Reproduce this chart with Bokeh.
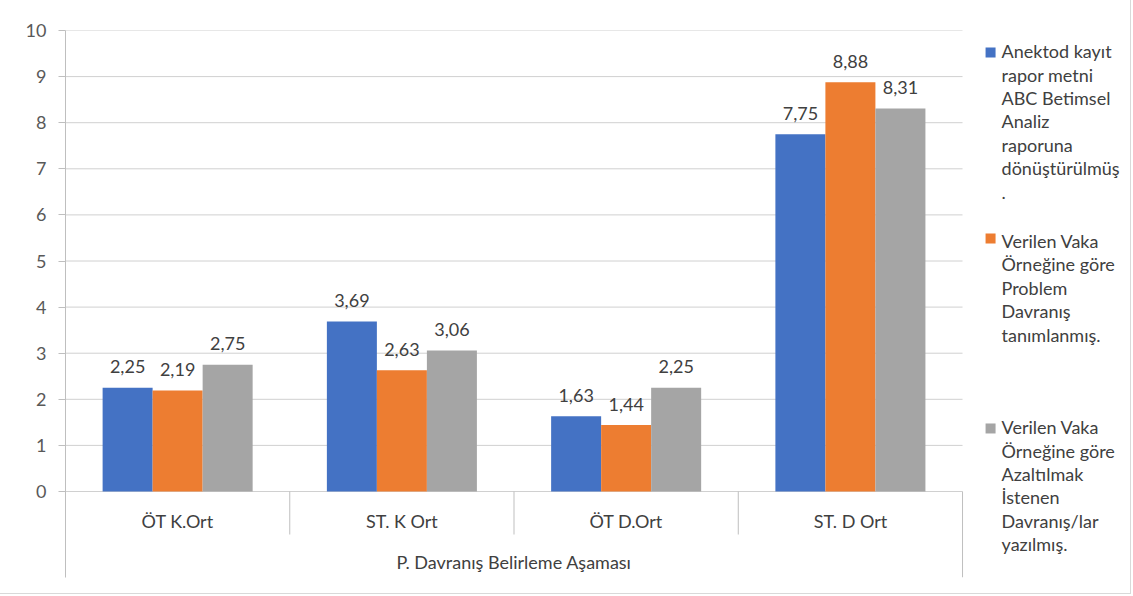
from bokeh.plotting import figure
from bokeh.models import Range1d, FixedTicker, ColumnDataSource
from bokeh.core.properties import value
from bokeh.embed import file_html
from bokeh.resources import INLINE
import numpy as np

# ---------------- data ----------------
categories = ["ÖT K.Ort", "ST. K Ort", "ÖT D.Ort", "ST. D Ort"]
group_label = "P. Davranış Belirleme Aşaması"
series_names = [
    "Anektod kayıt\nrapor metni\nABC Betimsel\nAnaliz\nraporuna\ndönüştürülmüş\n.",
    "Verilen Vaka\nÖrneğine göre\nProblem\nDavranış\ntanımlanmış.",
    "Verilen Vaka\nÖrneğine göre\nAzaltılmak\nİstenen\nDavranış/lar\nyazılmış.",
]
series_a = [2.25, 3.69, 1.63, 7.75]
series_b = [2.19, 2.63, 1.44, 8.88]
series_c = [2.75, 3.06, 2.25, 8.31]
y_ticks = [0, 1, 2, 3, 4, 5, 6, 7, 8, 9, 10]

# ---------------- style ----------------
colors = ["#4472C4", "#ED7D31", "#A5A5A5"]
FONT = "Lato"
FS = "18px"
GRID = "#d0d0d0"
AXIS = "#bfbfbf"
TXT = "#404040"

n = len(categories)
centers = np.arange(n) + 0.5
bar_w = 0.223
offsets = [-bar_w, 0.0, bar_w]
series = [series_a, series_b, series_c]

Y0 = -1.8655
p = figure(width=1130, height=593,
           x_range=Range1d(0, 4.749), y_range=Range1d(Y0, 10),
           output_backend="svg", toolbar_location=None,
           min_border_left=65, min_border_top=30, min_border_bottom=16, min_border_right=0)
p.xaxis.visible = False
p.xgrid.visible = False
p.ygrid.visible = False
p.outline_line_color = None
p.background_fill_color = "white"
p.border_fill_color = "white"
p.styles = {"outline": "1px solid #d9d9d9"}

yax = p.yaxis[0]
yax.ticker = FixedTicker(ticks=y_ticks)
yax.major_tick_in = 0
yax.major_tick_out = 7
yax.minor_tick_line_color = None
yax.axis_line_color = AXIS
yax.major_tick_line_color = AXIS
yax.major_label_text_font = FONT
yax.major_label_text_font_size = FS
yax.major_label_text_color = "#595959"
yax.major_label_standoff = 12

# gridlines across the category area
p.segment(x0=0, x1=n, y0=y_ticks, y1=y_ticks, line_color=GRID, line_width=1)

# category separators and right edge
p.segment(x0=list(range(1, n)), x1=list(range(1, n)), y0=0, y1=-0.933,
          line_color=AXIS, line_width=1)
p.segment(x0=[n], x1=[n], y0=[0], y1=[Y0], line_color=AXIS, line_width=1)

# bars + data labels
for vals, off, col in zip(series, offsets, colors):
    src = ColumnDataSource(dict(x=centers + off, top=vals,
                                lab=[f"{v:.2f}".replace(".", ",") for v in vals]))
    p.vbar(x="x", top="top", bottom=0, width=bar_w, source=src,
           fill_color=col, line_color=None)
    p.text(x="x", y="top", text="lab", source=src, y_offset=-21,
           text_align="center", text_baseline="middle",
           text_font=value(FONT), text_font_size=FS, text_color=TXT)

# category labels
p.text(x=centers, y=[-0.63] * n, text=categories, text_align="center",
       text_baseline="middle", text_font=value(FONT), text_font_size=FS,
       text_color=TXT)
p.text(x=[n / 2], y=[-1.54], text=[group_label], text_align="center",
       text_baseline="middle", text_font=value(FONT), text_font_size=FS,
       text_color=TXT)

# legend (drawn to the right of the category area)
leg_text_y = [9.792, 5.675, 1.636]
leg_box_y = [9.523, 5.488, 1.367]
p.scatter(x=[4.125] * 3, y=leg_box_y, marker="square", size=10,
          fill_color=colors, line_color=None)
p.text(x=[4.174] * 3, y=leg_text_y, text=series_names, text_align="left",
       text_baseline="top", text_line_height=1.065,
       text_font=value(FONT), text_font_size=FS, text_color=TXT)

open("out.html", "w").write(file_html(p, INLINE))
